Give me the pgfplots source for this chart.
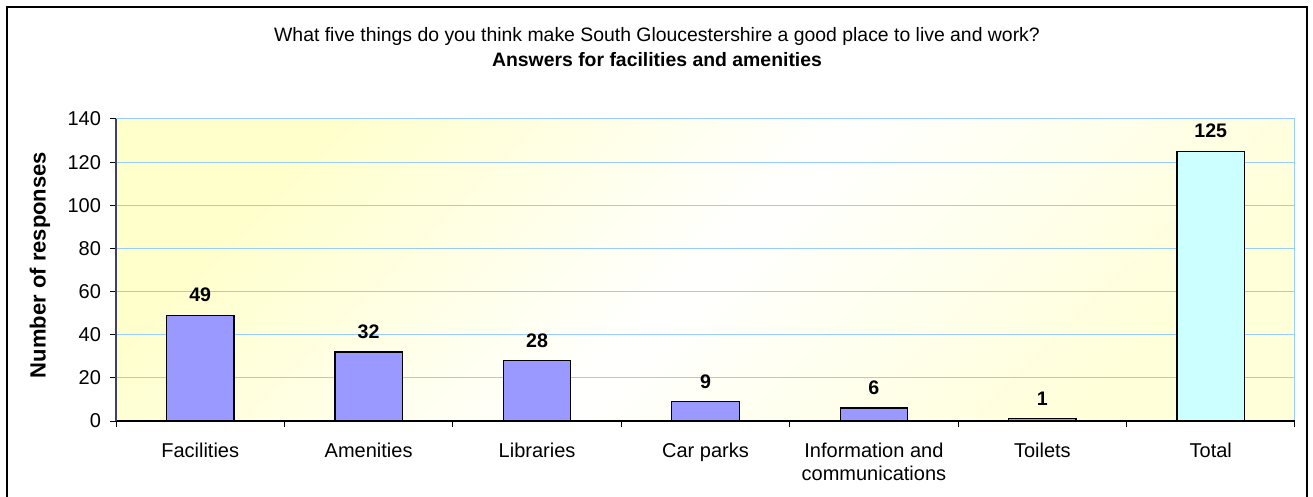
\documentclass[border=0pt]{standalone}
\usepackage{fontspec}
\setmainfont{Liberation Sans}
\usepackage{pgfplots}
\pgfplotsset{compat=1.18}

\definecolor{barblue}{HTML}{9999FF}
\definecolor{barcyan}{HTML}{CCFFFF}
\definecolor{gridblue}{HTML}{99CCFF}
\definecolor{bgyellow}{HTML}{FFFFCC}
\definecolor{axisgray}{HTML}{404060}

\begin{document}
\begin{tikzpicture}
% 1 px of the reference = 0.5pt
\useasboundingbox (0,0) rectangle (656.5pt,-248.5pt);
\draw[line width=1pt] (3.5pt,-3.5pt) rectangle (653.5pt,-250pt);

\node[anchor=base, font=\fontsize{9.7}{11}\selectfont] at (328.5pt,-21pt)
  {What five things do you think make South Gloucestershire a good place to live and work?};
\node[anchor=base, font=\fontsize{9.7}{11}\selectfont\bfseries] at (328.5pt,-33.5pt)
  {Answers for facilities and amenities};
\node[rotate=90, font=\fontsize{11}{13}\selectfont\bfseries] at (20pt,-132.5pt)
  {Number of responses};

\begin{axis}[
  at={(58pt,-210.5pt)}, anchor=south west,
  scale only axis,
  width=589.5pt, height=151pt,
  xmin=-0.5, xmax=6.5,
  ymin=0, ymax=140,
  ytick={0,20,...,140},
  xtick={-0.5,0.5,...,6.5},
  x tick label as interval,
  xticklabels={Facilities, Amenities, Libraries, Car parks,
    {Information and\\communications}, Toilets, Total},
  /pgf/number format/assume math mode=true,
  axis x line*=bottom,
  axis y line*=left,
  x axis line style={black, line width=0.6pt, -},
  y axis line style={axisgray, line width=0.6pt, -},
  tick align=outside,
  major tick length=3pt,
  tick style={black, line width=0.5pt},
  ymajorgrids,
  grid style={gridblue, line width=0.5pt},
  axis background/.style={draw=gridblue, line width=0.5pt,
    left color=bgyellow, right color=bgyellow!75!white, middle color=white,
    shading angle=45},
  tick label style={font=\fontsize{10}{11.5}\selectfont},
  xticklabel style={align=center, anchor=north, yshift=-4.5pt},
  yticklabel style={xshift=-1pt},
  nodes near coords,
  nodes near coords style={font=\fontsize{9.8}{11}\selectfont\bfseries, yshift=3pt},
  clip=false,
]
\addplot[ybar, bar width=0.4, fill=barblue, draw=black, line width=0.6pt]
  coordinates {(0,49) (1,32) (2,28) (3,9) (4,6) (5,1)};
\addplot[ybar, bar width=0.4, fill=barcyan, draw=black, line width=0.6pt]
  coordinates {(6,125)};
\end{axis}
\end{tikzpicture}
\end{document}
